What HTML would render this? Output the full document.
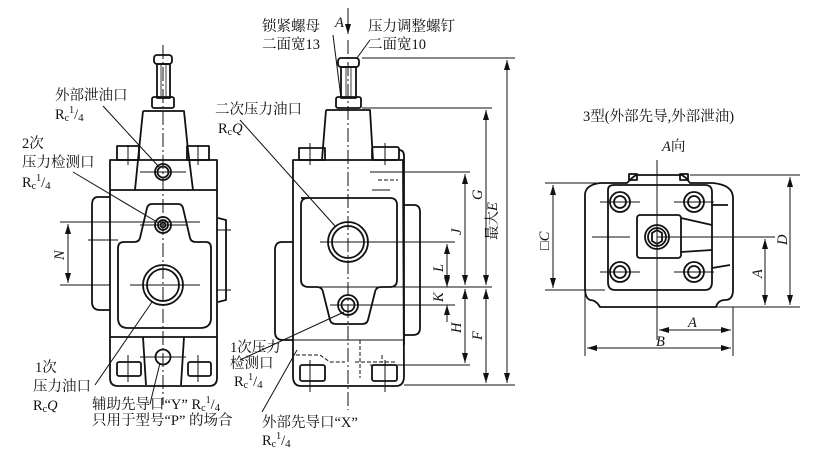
<!DOCTYPE html>
<html><head><meta charset="utf-8"><style>
html,body{margin:0;padding:0;background:#fff}
svg{display:block}
text{font-family:"Liberation Serif","Noto Serif CJK SC","Noto Sans CJK SC",serif;font-size:14.5px;fill:#111}
.i{font-style:italic}
</style></head><body>
<svg width="817" height="457" viewBox="0 0 817 457" xmlns="http://www.w3.org/2000/svg">
<defs>
<marker id="ar" viewBox="0 0 10 6" refX="10" refY="3" markerWidth="10" markerHeight="6" orient="auto-start-reverse" markerUnits="userSpaceOnUse"><path d="M0,0 L10,3 L0,6z" fill="#111"/></marker>
</defs>
<g fill="none" stroke="#111" stroke-width="1.8" stroke-linejoin="round">
<!-- LEFT VIEW -->
<rect x="154" y="55" width="18" height="9" rx="3"/>
<rect x="157" y="64" width="13" height="34"/>
<line x1="161" y1="64" x2="161" y2="98" stroke-width="0.8"/><line x1="166" y1="64" x2="166" y2="98" stroke-width="0.8"/>
<rect x="152" y="97" width="22" height="11" rx="2"/>
<path d="M143,111 L184,111 L188,150 L193,190 M143,111 L139,150 L135,190"/>
<rect x="117" y="146" width="22" height="14"/><rect x="187" y="146" width="22" height="14"/>
<path d="M110,160 L217,160 L217,378 Q217,386 209,386 L118,386 Q110,386 110,378 Z"/>
<line x1="110" y1="190" x2="217" y2="190"/>
<line x1="110" y1="337" x2="217" y2="337"/>
<path d="M110,197 L98,197 Q92,197 92,205 L92,302 Q92,310 100,310 L110,310"/>
<path d="M218,218 L226,220 L226,300 L218,302"/>
<path d="M152,204 L178,204 Q182,204 183,208 L190,238 Q191,242 196,242 L206,242 Q211,242 211,248 L211,318 Q211,328 200,328 L128,328 Q118,328 118,318 L118,248 Q118,242 124,242 L134,242 Q139,242 140,238 L147,208 Q148,204 152,204 Z"/>
<line x1="143" y1="337" x2="146" y2="385"/><line x1="184" y1="337" x2="181" y2="385"/>
<circle cx="163" cy="172" r="8"/><circle cx="163" cy="172" r="5.5"/>
<circle cx="163" cy="225" r="8"/><circle cx="163" cy="225" r="5"/><circle cx="163" cy="225" r="2.5"/>
<circle cx="163" cy="285" r="20"/><circle cx="163" cy="285" r="16"/>
<circle cx="163" cy="357" r="7.5"/>
<rect x="117" y="362" width="24" height="14" rx="2"/><rect x="188" y="362" width="23" height="14" rx="2"/>
<!-- MIDDLE VIEW -->
<rect x="338" y="58" width="21" height="9" rx="3"/>
<rect x="341" y="67" width="15" height="31"/>
<line x1="346" y1="67" x2="346" y2="98" stroke-width="0.8"/><line x1="351" y1="67" x2="351" y2="98" stroke-width="0.8"/>
<rect x="336" y="97" width="25" height="11" rx="2"/>
<path d="M326,110 L370,110 L373,160 M326,110 L322,160"/>
<rect x="299" y="148" width="26" height="12"/><rect x="372" y="147" width="27" height="13" rx="2"/>
<path d="M399,150 Q404,150 404,156 L404,345"/>
<path d="M293,160 L403,160 L404,376 Q404,386 396,386 L301,386 Q293,386 293,376 Z"/>
<path d="M301,198 L390,198 Q397,198 397,205 L397,280 Q397,287 390,287 L381,287 Q376,287 375,292 L368,320 Q367,324 362,324 L336,324 Q331,324 330,320 L323,292 Q322,287 317,287 L309,287 Q301,287 301,280 L301,205 Q301,198 308,198"/>
<path d="M293,242 L282,242 Q275,242 275,250 L275,332 Q275,340 283,340 L293,340"/>
<path d="M404,205 L414,205 Q420,205 420,212 L420,328 Q420,335 413,335 L404,335"/>
<circle cx="348" cy="242" r="20"/><circle cx="348" cy="242" r="16"/>
<circle cx="348" cy="305" r="10"/><circle cx="348" cy="305" r="6.5"/>
<rect x="300" y="365" width="25" height="16" rx="2"/><rect x="372" y="365" width="25" height="16" rx="2"/>
<line x1="293" y1="340" x2="404" y2="340" stroke-width="1"/>
<g stroke-dasharray="4,2" stroke-width="1">
<path d="M296,355 L320,355 L330,362 L345,362"/><path d="M360,340 L360,378 M355,362 L395,362 M382,355 L382,362"/>
<path d="M378,180 L398,180"/>
</g>
<!-- RIGHT VIEW -->
<path d="M600,183 L627,183 L632,178 L636,175 L682,175 L686,178 L690,183 L713,183 Q733,185 733,198 L733,290 Q733,300 725,300 Q718,300 716,307 L600,307 Q596,300 590,300 Q585,298 585,288 L585,195 Q585,185 600,183 Z"/>
<path d="M608,190 Q608,185 614,185 L705,185 Q712,185 712,192 L712,282 Q712,290 705,290 L615,290 Q608,290 608,282 Z"/>
<path d="M681,218 L712,225 M681,252 L712,250 M712,205 L728,205 M712,268 L730,265"/>
<rect x="637" y="215" width="44" height="43" rx="3"/>
<circle cx="657" cy="237" r="12"/><circle cx="657" cy="237" r="9"/>
<path d="M652,233 L657,230 L662,233 L662,241 L657,244 L652,241Z"/>
<circle cx="620" cy="202" r="10"/><circle cx="620" cy="202" r="6"/>
<circle cx="694" cy="202" r="10"/><circle cx="694" cy="202" r="6"/>
<circle cx="620" cy="272" r="10"/><circle cx="620" cy="272" r="6"/>
<circle cx="694" cy="272" r="10"/><circle cx="694" cy="272" r="6"/>
<rect x="629" y="174" width="8" height="6"/><rect x="680" y="174" width="8" height="6"/>
</g>
<!-- thin lines: centerlines, dims, leaders -->
<g fill="none" stroke="#111" stroke-width="1">
<line x1="163" y1="45" x2="163" y2="405" stroke-dasharray="14,3,2,3"/>
<line x1="348" y1="40" x2="348" y2="410" stroke-dasharray="14,3,2,3"/>
<line x1="657" y1="160" x2="657" y2="340"/>
<path d="M128,145 L128,165 M198,145 L198,165 M128,355 L128,382 M198,355 L198,382 M310,143 L310,165 M385,143 L385,165 M310,360 L310,392 M385,360 L385,392"/>
<path d="M140,172 L186,172 M140,225 L186,225 M60,222 L200,222 M60,285 L110,285 M130,285 L200,285 M140,357 L186,357 M217,230 L231,230 M217,290 L231,290 M88,240 L118,240"/>
<line x1="68" y1="224" x2="68" y2="283" marker-start="url(#ar)" marker-end="url(#ar)"/>
<path d="M362,58 L515,58 M362,108 L492,108 M370,172 L470,172 M320,242 L455,242 M305,287 L492,287 M330,305 L455,305 M370,365 L470,365 M404,385 L515,385 M372,190 L390,190"/>
<line x1="507" y1="60" x2="507" y2="383" marker-start="url(#ar)" marker-end="url(#ar)"/>
<line x1="486" y1="110" x2="486" y2="285" marker-start="url(#ar)" marker-end="url(#ar)"/>
<line x1="486" y1="289" x2="486" y2="383" marker-start="url(#ar)" marker-end="url(#ar)"/>
<line x1="465" y1="174" x2="465" y2="285" marker-start="url(#ar)" marker-end="url(#ar)"/>
<line x1="465" y1="289" x2="465" y2="363" marker-start="url(#ar)" marker-end="url(#ar)"/>
<line x1="447" y1="244" x2="447" y2="285" marker-start="url(#ar)" marker-end="url(#ar)"/>
<line x1="447" y1="270" x2="447" y2="287" marker-end="url(#ar)"/>
<line x1="447" y1="322" x2="447" y2="305" marker-end="url(#ar)"/>
<line x1="348" y1="8" x2="348" y2="34" marker-end="url(#ar)"/>
<path d="M103,106 L160,168 M73,172 L157,222 M95,385 L152,302 M150,404 L160,363 M333,35 L341,98 M370,40 L357,58 M240,120 L335,226 M240,360 L344,312 M262,412 L297,350"/>
<path d="M545,183 L600,183 M545,290 L605,290 M690,175 L800,175 M716,307 L800,307 M657,237 L775,237 M585,290 L585,356 M733,307 L733,356 M592,237 L630,237 M600,202 L640,202 M674,202 L714,202 M600,272 L640,272 M674,272 L714,272"/>
<line x1="553" y1="185" x2="553" y2="288" marker-start="url(#ar)" marker-end="url(#ar)"/>
<line x1="790" y1="177" x2="790" y2="305" marker-start="url(#ar)" marker-end="url(#ar)"/>
<line x1="765" y1="239" x2="765" y2="305" marker-start="url(#ar)" marker-end="url(#ar)"/>
<line x1="659" y1="330" x2="731" y2="330" marker-start="url(#ar)" marker-end="url(#ar)"/>
<line x1="587" y1="348" x2="731" y2="348" marker-start="url(#ar)" marker-end="url(#ar)"/>
</g>
<!-- TEXT -->
<text x="55" y="100">外部泄油口</text>
<text x="55" y="119">R<tspan font-size="10" dy="2">c</tspan><tspan font-size="10" dy="-8">1</tspan><tspan dy="6">/</tspan><tspan font-size="11" dy="2">4</tspan></text>
<text x="22" y="148">2次</text>
<text x="22" y="167">压力检测口</text>
<text x="22" y="187">R<tspan font-size="10" dy="2">c</tspan><tspan font-size="10" dy="-8">1</tspan><tspan dy="6">/</tspan><tspan font-size="11" dy="2">4</tspan></text>
<text x="35" y="372">1次</text>
<text x="33" y="391">压力油口</text>
<text x="33" y="410">R<tspan font-size="10" dy="2">c</tspan><tspan class="i" dy="-2">Q</tspan></text>
<text x="92" y="409">辅助先导口“Y” R<tspan font-size="10" dy="2">c</tspan><tspan font-size="10" dy="-8">1</tspan><tspan dy="6">/</tspan><tspan font-size="11" dy="2">4</tspan></text>
<text x="92" y="425">只用于型号“P” 的场合</text>
<text x="262" y="31">锁紧螺母</text>
<text x="262" y="49">二面宽13</text>
<text x="335" y="27" class="i">A</text>
<text x="368" y="31">压力调整螺钉</text>
<text x="368" y="49">二面宽10</text>
<text x="215" y="114">二次压力油口</text>
<text x="218" y="133">R<tspan font-size="10" dy="2">c</tspan><tspan class="i" dy="-2">Q</tspan></text>
<text x="230" y="352">1次压力</text>
<text x="230" y="368">检测口</text>
<text x="234" y="386">R<tspan font-size="10" dy="2">c</tspan><tspan font-size="10" dy="-8">1</tspan><tspan dy="6">/</tspan><tspan font-size="11" dy="2">4</tspan></text>
<text x="262" y="427">外部先导口“X”</text>
<text x="262" y="445">R<tspan font-size="10" dy="2">c</tspan><tspan font-size="10" dy="-8">1</tspan><tspan dy="6">/</tspan><tspan font-size="11" dy="2">4</tspan></text>
<text class="i" transform="translate(64,260) rotate(-90)">N</text>
<text class="i" transform="translate(497,240) rotate(-90)"><tspan font-style="normal">最大</tspan>E</text>
<text class="i" transform="translate(482,200) rotate(-90)">G</text>
<text class="i" transform="translate(482,340) rotate(-90)">F</text>
<text class="i" transform="translate(461,235) rotate(-90)">J</text>
<text class="i" transform="translate(461,333) rotate(-90)">H</text>
<text class="i" transform="translate(443,272) rotate(-90)">L</text>
<text class="i" transform="translate(443,302) rotate(-90)">K</text>
<text x="583" y="121">3型(外部先导,外部泄油)</text>
<text x="662" y="151"><tspan class="i">A</tspan>向</text>
<text transform="translate(549,250) rotate(-90)">□<tspan class="i">C</tspan></text>
<text class="i" transform="translate(787,245) rotate(-90)">D</text>
<text class="i" transform="translate(762,278) rotate(-90)">A</text>
<text class="i" x="688" y="327">A</text>
<text class="i" x="656" y="346">B</text>
</svg>
</body></html>
